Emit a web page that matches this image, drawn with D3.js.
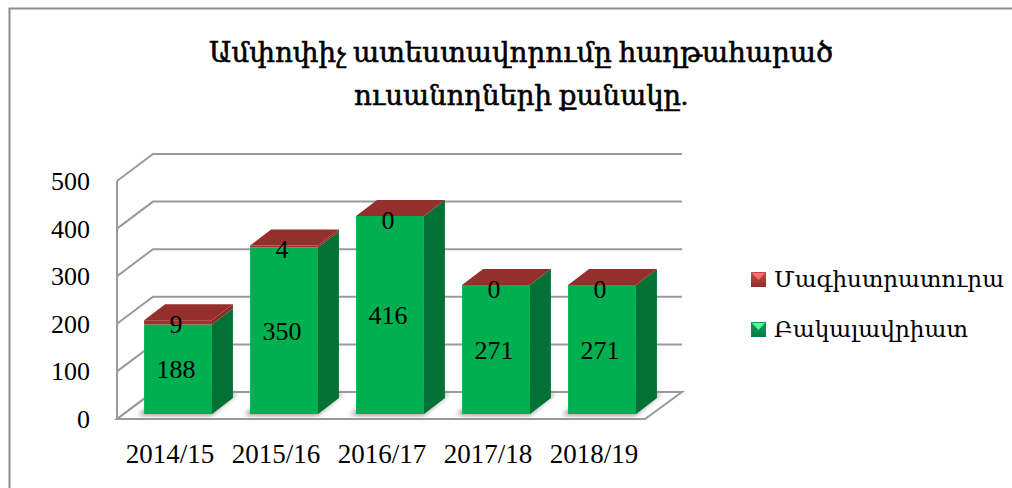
<!DOCTYPE html>
<html><head><meta charset="utf-8">
<script src="https://cdnjs.cloudflare.com/ajax/libs/d3/7.8.5/d3.min.js"></script>
<style>html,body{margin:0;padding:0;background:#fff}svg{display:block}
text{font-family:"Liberation Serif","DejaVu Serif",serif;fill:#000}</style></head>
<body><svg id="c" width="1012" height="488"></svg>
<script>
const categories=["2014/15","2015/16","2016/17","2017/18","2018/19"];
const bachelor=[188,350,416,271,271];
const master=[9,4,0,0,0];
const yTicks=[0,100,200,300,400,500];
const titleLines=["Ամփոփիչ ատեստավորումը հաղթահարած","ուսանողների քանակը."];
const legendLabels=["Մագիստրատուրա","Բակալավրիատ"];
const svg=d3.select("#c");
const defs=svg.append("defs");
const blur=defs.append("filter").attr("id","sh").attr("x","-30%").attr("y","-100%").attr("width","160%").attr("height","300%");
blur.append("feGaussianBlur").attr("stdDeviation",2.5);
function grad(id,a,b){const g=defs.append("linearGradient").attr("id",id).attr("x1",0).attr("y1",0).attr("x2",0).attr("y2",1);
g.append("stop").attr("offset","0%").attr("stop-color",a);g.append("stop").attr("offset","100%").attr("stop-color",b);}
grad("lr","#c0504d","#8f2a28");grad("lg","#0f9d58","#0a7a42");

// frame
svg.append("path").attr("d","M9.5,488V8.5H1012").attr("fill","none").attr("stroke","#8c8c8c").attr("stroke-width",2);

// title
svg.append("g").selectAll("text").data(titleLines).join("text")
 .attr("x",521).attr("y",(d,i)=>62+i*43).attr("text-anchor","middle").attr("font-size",28).text(d=>d)
 .attr("stroke","#000").attr("stroke-width",0.6)
 .attr("textLength",(d,i)=>[624,334][i]).attr("lengthAdjust","spacingAndGlyphs");

// scales
const wallY=d3.scaleLinear().domain([0,500]).range([419,181]);
const depth={x:36,y:-27};
const barY=d3.scaleLinear().domain([0,500]).range([414,176]);
const x=d3.scaleBand().domain(categories).range([125,655]).paddingInner(0.36).paddingOuter(0.18);
const grid="#9a9a9a";
const gg=svg.append("g").attr("fill","none").attr("stroke",grid).attr("stroke-width",2);
// floor
gg.append("path").attr("d",`M117,${wallY(0)}H645L682,${wallY(0)+depth.y}H${117+depth.x}Z`).attr("fill","#fff");
// grid
gg.selectAll("path.g").data(yTicks).join("path").attr("class","g")
 .attr("d",v=>`M117,${wallY(v)}L${117+depth.x},${wallY(v)+depth.y}H682`);
gg.append("path").attr("d",`M117,${wallY(500)}V${wallY(0)}`);

// y labels
svg.append("g").selectAll("text").data(yTicks).join("text")
 .attr("x",90).attr("y",v=>wallY(v)+9).attr("text-anchor","end").attr("font-size",26).text(d=>d);

const bd={x:21,y:-16};
const bars=svg.append("g").selectAll("g").data(categories).join("g");
// floor shadow
bars.append("path").attr("filter","url(#sh)").attr("fill","#8a8a8a")
 .attr("d",c=>`M${x(c)-6},${barY(0)+1}L${x(c)+x.bandwidth()},${barY(0)+1}L${x(c)+x.bandwidth()+bd.x+4},${barY(0)+bd.y-5}L${x(c)+bd.x},${barY(0)+bd.y-3}Z`);
bars.each(function(c,i){
 const g=d3.select(this),l=x(c),r=l+x.bandwidth(),y0=barY(0),y1=barY(bachelor[i]),y2=barY(bachelor[i]+master[i]);
 g.append("rect").attr("x",l).attr("y",y1).attr("width",r-l).attr("height",y0-y1).attr("fill","#00b050");
 g.append("path").attr("fill","#017233").attr("d",`M${r},${y0}L${r+bd.x},${y0+bd.y}V${y1+bd.y}L${r},${y1}Z`);
 if(master[i]>0){
  g.append("rect").attr("x",l).attr("y",y2).attr("width",r-l).attr("height",y1-y2).attr("fill","#a5302e");
  g.append("path").attr("fill","#8b2a28").attr("d",`M${r},${y1}L${r+bd.x},${y1+bd.y}V${y2+bd.y}L${r},${y2}Z`);
 }
 g.append("path").attr("fill","#952f2c").attr("d",`M${l},${y2}L${l+bd.x},${y2+bd.y}H${r+bd.x}L${r},${y2}Z`);
 g.append("text").attr("x",l+x.bandwidth()/2-2).attr("y",(y0+y1)/2+9).attr("text-anchor","middle").attr("font-size",26).text(bachelor[i]);
 g.append("text").attr("x",l+x.bandwidth()/2-2).attr("y",y2+13).attr("text-anchor","middle").attr("font-size",26).text(master[i]);
 g.append("text").attr("x",(l+r)/2-8).attr("y",463).attr("text-anchor","middle").attr("font-size",27).text(c);
});

// legend
const lg=svg.append("g").selectAll("g").data(legendLabels).join("g");
lg.append("rect").attr("x",751).attr("y",(d,i)=>272+i*50).attr("width",15).attr("height",15).attr("fill",(d,i)=>i?"url(#lg)":"url(#lr)");
lg.append("path").attr("d",(d,i)=>`M${752},${273+i*50}h13l-6.5,7z`).attr("fill",(d,i)=>i?"#4dff9a":"#ff6b6b");
lg.append("text").attr("x",774).attr("y",(d,i)=>287+i*50).attr("font-size",22).text(d=>d)
 .attr("textLength",(d,i)=>[230,194][i]).attr("lengthAdjust","spacingAndGlyphs");
</script></body></html>
